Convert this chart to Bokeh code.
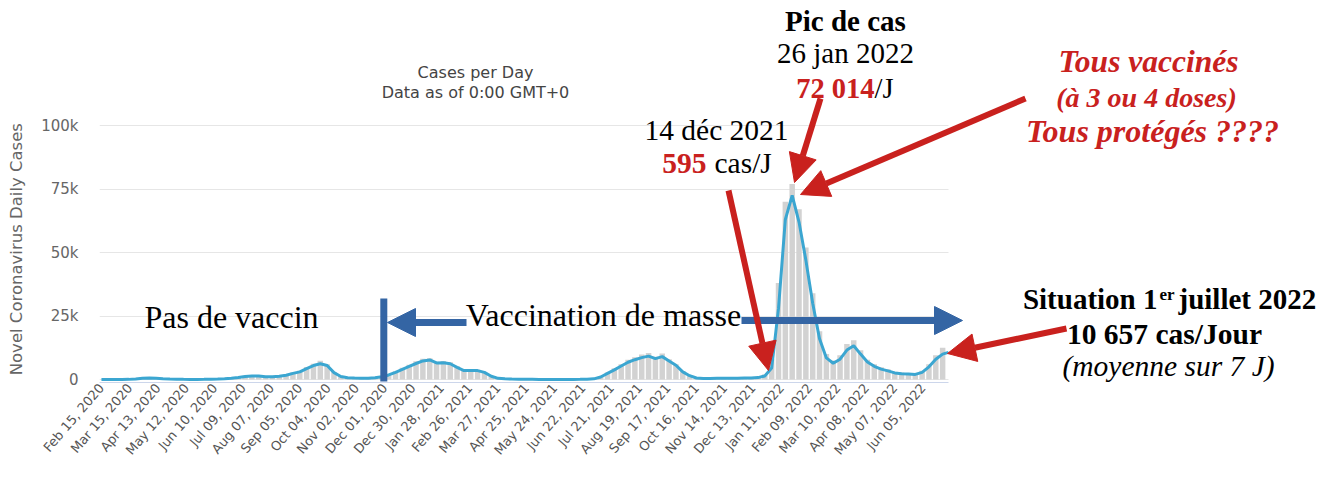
import pandas as pd
from bokeh.plotting import figure
from bokeh.models import (Range1d, FixedTicker, DatetimeTickFormatter, Label,
                          Arrow, NormalHead, ColumnDataSource)
from bokeh.embed import file_html
from bokeh.resources import INLINE

# ---------------- data ----------------
week_start = "2020-02-15"          # first weekly sample
last_date = "2022-07-01"           # last point of the 7-day average
# 7-day average of daily cases, thousands, one value per week from week_start
avg7_k = [0, 0, 0, 0.005, 0.05, 0.2, 0.45, 0.55, 0.45, 0.3,
          0.18, 0.1, 0.05, 0.03, 0.03, 0.06, 0.12, 0.2, 0.3, 0.45,
          0.8, 1.2, 1.4, 1.4, 1.1, 1.1, 1.3, 1.7, 2.4, 3.0,
          4.3, 5.5, 6.2, 5.5, 2.7, 1.2, 0.7, 0.55, 0.5, 0.5,
          0.7, 1.1, 1.8, 2.8, 4.0, 5.2, 6.3, 7.3, 7.7, 6.5,
          6.6, 6.2, 4.8, 3.5, 3.5, 3.5, 2.8, 1.3, 0.45, 0.25,
          0.15, 0.1, 0.07, 0.06, 0.04, 0.03, 0.02, 0.02, 0.02, 0.02,
          0.05, 0.12, 0.25, 1.0, 2.4, 3.8, 5.3, 6.8, 7.8, 8.6,
          9.2, 8.2, 9.0, 7.3, 5.6, 3.0, 1.5, 0.6, 0.4, 0.4,
          0.45, 0.5, 0.5, 0.5, 0.55, 0.6, 0.75, 1.4, 4.5, 28,
          63, 72.5, 62, 47, 30, 16, 8.5, 6.4, 8.0, 11.6,
          13.3, 10, 6.9, 5.2, 4.1, 3.4, 2.6, 2.3, 2.2, 2.0,
          2.8, 5.0, 8.0, 10.0]
avg7_last_k = 10.657
# daily reported cases (grey columns), thousands, same weekly dates
daily_k = [0, 0, 0, 0.01, 0.08, 0.25, 0.5, 0.65, 0.5, 0.3,
           0.2, 0.12, 0.06, 0.03, 0.04, 0.08, 0.15, 0.25, 0.35, 0.6,
           1.0, 1.4, 1.6, 1.5, 1.3, 1.2, 1.5, 2.0, 2.8, 3.4,
           4.9, 6.2, 7.4, 6.0, 3.0, 1.4, 0.8, 0.6, 0.6, 0.6,
           0.8, 1.3, 2.1, 3.2, 4.6, 5.8, 7.2, 8.2, 8.4, 7.0,
           7.3, 6.8, 5.2, 3.8, 3.9, 3.8, 3.0, 1.4, 0.5, 0.3,
           0.18, 0.12, 0.08, 0.07, 0.05, 0.04, 0.03, 0.02, 0.02, 0.03,
           0.07, 0.15, 0.35, 1.3, 2.8, 4.4, 6.0, 7.8, 8.8, 9.8,
           10.4, 9.0, 10.2, 8.0, 6.0, 3.3, 1.7, 0.7, 0.5, 0.45,
           0.5, 0.55, 0.55, 0.55, 0.6, 0.7, 0.9, 2.0, 8.0, 38,
           70, 77, 67, 52, 34, 19, 10, 7.5, 9.5, 14,
           15.5, 11.5, 7.8, 6.0, 4.8, 4.0, 3.1, 2.8, 2.6, 2.4,
           3.4, 6.0, 9.5, 12.5]
y_ticks = [0, 25000, 50000, 75000, 100000]
y_tick_labels = ["0", "25k", "50k", "75k", "100k"]
x_tick_first = "2020-02-15"
x_tick_step_days = 29
x_tick_count = 30
vacc_start = "2020-11-30"
y_title = "Novel Coronavirus Daily Cases"

# ---------------- layout (figure sits at the page's top-left corner) -------
DAY = 86400000
x_start = pd.Timestamp("2020-02-13")
x_data_end = pd.Timestamp("2022-07-01")
X0 = x_start.value / 1e6
XD = x_data_end.value / 1e6
# page pixel geometry of the original chart area
PL, PR, PT, PB = 99, 948, 125, 379      # left/right of data, 100k / 0 lines
MS_PER_PX = (XD - X0) / (PR - PL)
V_PER_PX = 100000 / (PB - PT)
PAGE_R, PAGE_T, PAGE_FB = 1335, 0, 382  # frame right / top / bottom on page
FRAME_W = PAGE_R - PL
FRAME_H = PAGE_FB - PAGE_T
x_end = X0 + FRAME_W * MS_PER_PX
y_end = (PB - PAGE_T) * V_PER_PX
y_start = (PB - PAGE_FB) * V_PER_PX


def dx(px):
    return X0 + (px - PL) * MS_PER_PX


def dy(py):
    return (PB - py) * V_PER_PX


weeks = pd.date_range(week_start, periods=len(avg7_k), freq="7D")
line_src = ColumnDataSource(dict(
    x=list(weeks) + [pd.Timestamp(last_date)],
    y=[v * 1000 for v in avg7_k] + [avg7_last_k * 1000]))
bar_src = ColumnDataSource(dict(x=list(weeks), top=[v * 1000 for v in daily_k]))

p = figure(frame_width=FRAME_W, frame_height=FRAME_H, x_axis_type="datetime",
           x_range=Range1d(X0, x_end), y_range=Range1d(y_start, y_end),
           output_backend="svg", toolbar_location=None,
           min_border_left=PL, min_border_right=0,
           min_border_top=0, min_border_bottom=0)
p.outline_line_color = None
p.background_fill_color = "white"

p.vbar(x="x", top="top", bottom=0, width=5.6 * DAY, source=bar_src,
       fill_color="#d2d2d2", line_color=None)
p.line(x="x", y="y", source=line_src, line_color="#3ba6d1", line_width=3)

# axes
xt = pd.Timestamp(x_tick_first)
x_ticks = [(xt + pd.Timedelta(days=x_tick_step_days * k)).value / 1e6
           for k in range(x_tick_count)]
p.xaxis.ticker = FixedTicker(ticks=x_ticks)
fmt = "%b %d, %Y"
p.xaxis.formatter = DatetimeTickFormatter(
    microseconds=fmt, milliseconds=fmt, seconds=fmt, minsec=fmt, minutes=fmt,
    hourmin=fmt, hours=fmt, days=fmt, months=fmt, years=fmt, context=None)
p.xaxis.bounds = (X0, XD)
p.xaxis.major_label_orientation = 0.86
p.xaxis.major_label_text_font = "DejaVu Sans"
p.xaxis.major_label_text_font_size = "13px"
p.xaxis.major_label_text_color = "#555555"
p.xaxis.major_label_standoff = 3
p.xaxis.major_tick_out = 0
p.xaxis.major_tick_in = 0
p.xaxis.major_tick_line_color = None
p.xaxis.minor_tick_line_color = None
p.xaxis.axis_line_color = "#ccd6eb"
p.xgrid.grid_line_color = None

yt = FixedTicker(ticks=y_ticks)
p.yaxis.ticker = yt
p.yaxis.bounds = (0, 100000)
p.ygrid.ticker = yt
p.ygrid.cross_bounds = (X0, XD)
p.yaxis.major_label_overrides = {t: s for t, s in zip(y_ticks, y_tick_labels)}
p.yaxis.major_label_text_font = "DejaVu Sans"
p.yaxis.major_label_text_font_size = "15px"
p.yaxis.major_label_text_color = "#666666"
p.yaxis.major_label_standoff = 15
p.yaxis.major_tick_line_color = None
p.yaxis.minor_tick_line_color = None
p.yaxis.axis_line_color = None
# the title is centred on the (tall) frame; no-break spaces after it move the
# visible words down to the middle of the 0-100k span, as in the original
p.yaxis.axis_label = y_title + "\u00a0" * 22
p.yaxis.axis_label_text_font = "DejaVu Sans"
p.yaxis.axis_label_text_font_size = "16.5px"
p.yaxis.axis_label_text_font_style = "normal"
p.yaxis.axis_label_text_color = "#666666"
p.yaxis.axis_label_standoff = 12
p.ygrid.grid_line_color = "#e6e6e6"

RED = "#c9211e"
BLUE = "#3465a4"
SERIF = "Liberation Serif"


def lab(text, px, py, size, style="normal", color="black", align="center",
        font=SERIF):
    """py is the text baseline in page pixels (rendered baseline sits a
    little lower than the anchor, hence the size-proportional lift)"""
    p.add_layout(Label(x=dx(px), y=dy(py - 0.35 * size), text=text,
                       text_font=font,
                       text_font_size=f"{size}px", text_font_style=style,
                       text_color=color, text_align=align,
                       text_baseline="alphabetic"))


def arrow(x0, y0, x1, y1, color, width, head=28):
    p.add_layout(Arrow(
        x_start=dx(x0), y_start=dy(y0), x_end=dx(x1), y_end=dy(y1),
        line_color=color, line_width=width,
        start=None,
        end=NormalHead(size=head, fill_color=color, line_color=color)
        if head else None))


# chart title (original Highcharts title)
lab("Cases per Day", 475, 78, 16, color="#444444", font="DejaVu Sans")
lab("Data as of 0:00 GMT+0", 475, 98, 16, color="#444444", font="DejaVu Sans")

# vaccination marker
vx = pd.Timestamp(vacc_start).value / 1e6
p.add_layout(Arrow(x_start=vx, y_start=dy(381), x_end=vx, y_end=dy(298),
                   line_color=BLUE, line_width=7, start=None, end=None))
arrow(466, 322, 387, 322, BLUE, 7, 28)
arrow(741, 320, 962, 320, BLUE, 7, 28)
lab("Pas de vaccin", 231, 328, 32)
lab("Vaccination de masse", 603, 326, 32)

# peak annotation
lab("Pic de cas", 845, 31, 29, "bold")
lab("26 jan 2022", 845, 63, 29)
lab("72 014", 874, 98, 28.5, "bold", RED, "right")
lab("/J", 874, 98, 28.5, "normal", "black", "left")
arrow(820, 98, 794, 182, RED, 6, 28)

# 14 dec 2021
lab("14 déc 2021", 716, 140, 29.5)
lab("595", 706, 173, 29.5, "bold", RED, "right")
lab("cas/J", 714, 173, 29.5, "normal", "black", "left")
arrow(728, 190, 768, 370, RED, 6, 28)

# all vaccinated
lab("Tous vaccinés", 1148, 72, 31.5, "bold italic", RED)
lab("(à 3 ou 4 doses)", 1146, 107, 28, "bold italic", RED)
lab("Tous protégés ????", 1152, 142, 32, "bold italic", RED)
arrow(1025, 98, 800, 194, RED, 6, 28)

# situation 1er juillet
lab("Situation 1", 1157, 309, 29, "bold", align="right")
lab("er", 1159, 300, 17, "bold", align="left")
lab("juillet 2022", 1178, 309, 29, "bold", align="left")
lab("10 657 cas/Jour", 1164, 344, 29.5, "bold")
lab("(moyenne sur 7 J)", 1168, 376, 29.5, "italic")
arrow(1066, 328, 947, 353, RED, 6, 28)

open("out.html", "w").write(file_html(p, INLINE))
